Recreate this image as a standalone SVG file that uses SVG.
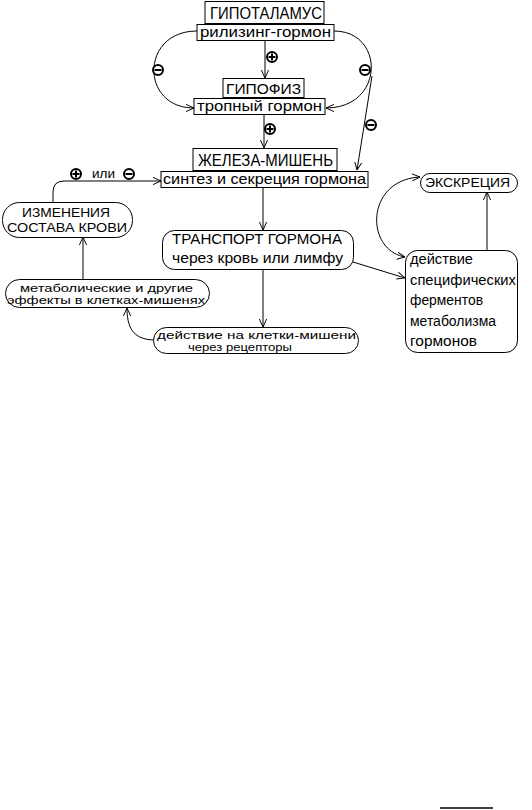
<svg xmlns="http://www.w3.org/2000/svg" width="532" height="810" viewBox="0 0 532 810">
<style>
.box{fill:#fff;stroke:#000;stroke-width:1}
.t{font-family:"Liberation Sans",Arial,sans-serif;fill:#000}
.c{fill:none;stroke:#000;stroke-width:1}
.sg{fill:#fff;stroke:#000;stroke-width:2}
</style>
<defs>
<marker id="ar" viewBox="0 0 10 10" refX="10" refY="5" markerWidth="8" markerHeight="8" markerUnits="userSpaceOnUse" orient="auto-start-reverse">
<path d="M0,0.5 L10,5 L0,9.5" fill="none" stroke="#000" stroke-width="1.2"/>
</marker>
<g id="minus"><circle r="5" class="sg"/><line x1="-3.5" y1="0" x2="3.5" y2="0" stroke="#000" stroke-width="2"/></g>
<g id="plus"><circle r="5" class="sg"/><line x1="-3.5" y1="0" x2="3.5" y2="0" stroke="#000" stroke-width="2"/><line x1="0" y1="-3.5" x2="0" y2="3.5" stroke="#000" stroke-width="2"/></g>
</defs>
<rect width="532" height="810" fill="#fff"/>

<g id="connectors">
<path class="c" d="M265,40 L265,78" marker-end="url(#ar)"/>
<path class="c" d="M264,114 L264,148" marker-end="url(#ar)"/>
<path class="c" d="M263,187 L263,230" marker-end="url(#ar)"/>
<path class="c" d="M263,269 L263,327" marker-end="url(#ar)"/>
<path class="c" d="M83,279 L83,237" marker-end="url(#ar)"/>
<path class="c" d="M53,202 L53,192 Q53,181 64,181 L161,181" marker-end="url(#ar)"/>
<path class="c" d="M487,250 L487,192" marker-end="url(#ar)"/>
<path class="c" d="M353,262 L405,278" marker-end="url(#ar)"/>
<path class="c" d="M155,340 C132,340 127,326 127,308" marker-end="url(#ar)"/>
<path class="c" d="M405,257 C365,250 365,180 420,177" marker-start="url(#ar)" marker-end="url(#ar)"/>
<path class="c" d="M197,31 C140,31 140,108 194,108" marker-end="url(#ar)"/>
<path class="c" d="M334,31 C385,31 385,108 326,108" marker-end="url(#ar)"/>
<path class="c" d="M372,76 L357,170" marker-end="url(#ar)"/>
<line x1="440" y1="808" x2="493" y2="808" stroke="#000" stroke-width="1.5"/>
</g>

<g id="signs">
<use href="#minus" x="158" y="70"/>
<use href="#minus" x="365" y="70"/>
<use href="#minus" x="371" y="125"/>
<use href="#plus" x="272" y="57"/>
<use href="#plus" x="270" y="129"/>
<use href="#plus" x="76" y="174"/>
<use href="#minus" x="129" y="174"/>
<text class="t" x="92" y="178" font-size="13" textLength="23" lengthAdjust="spacingAndGlyphs">или</text>
</g>

<g id="hypothalamus">
<rect class="box" x="205" y="1.5" width="119" height="22"/>
<text class="t" x="210" y="19" font-size="17" textLength="112" lengthAdjust="spacingAndGlyphs">ГИПОТАЛАМУС</text>
</g>
<g id="rilizing">
<rect class="box" x="197" y="24.5" width="137" height="16"/>
<text class="t" x="200" y="37" font-size="15" textLength="131" lengthAdjust="spacingAndGlyphs">рилизинг-гормон</text>
</g>
<g id="hypophysis">
<rect class="box" x="223" y="78.5" width="81" height="19"/>
<text class="t" x="226" y="94" font-size="15" textLength="75" lengthAdjust="spacingAndGlyphs">ГИПОФИЗ</text>
</g>
<g id="tropny">
<rect class="box" x="194" y="98.5" width="131" height="16"/>
<text class="t" x="197" y="111" font-size="15" textLength="125" lengthAdjust="spacingAndGlyphs">тропный гормон</text>
</g>
<g id="zheleza">
<rect class="box" x="193" y="148.5" width="144" height="22"/>
<text class="t" x="198" y="166" font-size="16" textLength="135" lengthAdjust="spacingAndGlyphs">ЖЕЛЕЗА-МИШЕНЬ</text>
</g>
<g id="sintez">
<rect class="box" x="161" y="171.5" width="207" height="16"/>
<text class="t" x="163" y="184" font-size="15" textLength="203" lengthAdjust="spacingAndGlyphs">синтез и секреция гормона</text>
</g>
<g id="izmeneniya">
<rect class="box" x="2.5" y="202.5" width="130" height="35" rx="17"/>
<text class="t" x="22" y="217" font-size="13" textLength="88" lengthAdjust="spacingAndGlyphs">ИЗМЕНЕНИЯ</text>
<text class="t" x="7" y="232" font-size="13" textLength="120" lengthAdjust="spacingAndGlyphs">СОСТАВА КРОВИ</text>
</g>
<g id="metabolic">
<rect class="box" x="5.5" y="279.5" width="204" height="28" rx="14"/>
<text class="t" x="20" y="292" font-size="11.5" textLength="173" lengthAdjust="spacingAndGlyphs">метаболические и другие</text>
<text class="t" x="7" y="304" font-size="11.5" textLength="198" lengthAdjust="spacingAndGlyphs">эффекты в клетках-мишенях</text>
</g>
<g id="transport">
<rect class="box" x="162.5" y="230.5" width="191" height="39" rx="12"/>
<text class="t" x="172" y="244" font-size="15" textLength="170" lengthAdjust="spacingAndGlyphs">ТРАНСПОРТ ГОРМОНА</text>
<text class="t" x="172" y="263" font-size="15" textLength="171" lengthAdjust="spacingAndGlyphs">через кровь или лимфу</text>
</g>
<g id="deystvie">
<rect class="box" x="153.5" y="327.5" width="205" height="26" rx="13"/>
<text class="t" x="157" y="338.5" font-size="11" textLength="199" lengthAdjust="spacingAndGlyphs">действие на клетки-мишени</text>
<text class="t" x="188" y="350.5" font-size="11" textLength="104" lengthAdjust="spacingAndGlyphs">через рецепторы</text>
</g>
<g id="ekskreciya">
<rect class="box" x="420.5" y="173.5" width="97" height="19" rx="9.5"/>
<text class="t" x="425" y="187" font-size="13" textLength="85" lengthAdjust="spacingAndGlyphs">ЭКСКРЕЦИЯ</text>
</g>
<g id="fermenty">
<rect class="box" x="405.5" y="250.5" width="112" height="102" rx="12"/>
<text class="t" x="410" y="264" font-size="14" textLength="63" lengthAdjust="spacingAndGlyphs">действие</text>
<text class="t" x="410" y="284.5" font-size="14" textLength="106" lengthAdjust="spacingAndGlyphs">специфических</text>
<text class="t" x="410" y="305" font-size="14" textLength="73" lengthAdjust="spacingAndGlyphs">ферментов</text>
<text class="t" x="410" y="325.5" font-size="14" textLength="86" lengthAdjust="spacingAndGlyphs">метаболизма</text>
<text class="t" x="410" y="346" font-size="14" textLength="67" lengthAdjust="spacingAndGlyphs">гормонов</text>
</g>
</svg>
